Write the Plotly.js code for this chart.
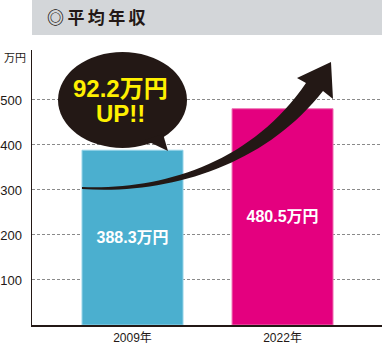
<!DOCTYPE html>
<html><head><meta charset="utf-8">
<script src="https://cdn.plot.ly/plotly-3.0.1.min.js"></script>
<style>html,body{margin:0;padding:0;background:#fff;}#chart{width:382px;height:344px;}</style>
</head><body><div id="chart"></div>
<script>
const categories = ['2009年', '2022年'];
const values = [388.3, 480.5];
const valueLabels = ['388.3万円', '480.5万円'];
const barColors = ['#4bafcf', '#e4007f'];
const barEdge = ['#94d3e8', '#ef72b4'];
const yTicks = [100, 200, 300, 400, 500];
const yUnit = '万円';
const chartTitle = '◎\u2009平\u2009均\u2009年\u2009収';
const bubbleLines = ['92.2万円', 'UP!!'];

const W = 382, H = 344, ML = 32, MR = 0, MT = 50, MB = 19;
const XR = [-0.67, 1.663], YR = [0, 611];
const PW = W - ML - MR, PH = H - MT - MB;
// helper: pixel position -> data coordinate (for decorations only)
function dx(px) { return XR[0] + (px - ML) / PW * (XR[1] - XR[0]); }
function dy(py) { return YR[0] + (H - MB - py) / PH * (YR[1] - YR[0]); }
function P(px, py) { return dx(px).toFixed(4) + ',' + dy(py).toFixed(3); }

const xs = categories.map((c, i) => i);
const font = "'Liberation Sans', Arial, 'Noto Sans CJK JP', sans-serif";
const dark = '#231815';

const arrowPath = 'M ' + P(82,187) + ' C ' + P(160,190) + ' ' + P(250,165) + ' ' + P(306,83) +
  ' L ' + P(297,78) + ' L ' + P(331,62) + ' L ' + P(333,99) + ' L ' + P(323,91) +
  ' C ' + P(265,165) + ' ' + P(170,195) + ' ' + P(82,189) + ' Z';
const tailPath = 'M ' + P(145,140) + ' L ' + P(168,151) + ' L ' + P(163,134) + ' Z';

const trace = {
  type: 'bar', x: xs, y: values, width: 0.673,
  marker: {color: barColors, line: {color: barEdge, width: 1}},
  text: valueLabels, textposition: 'inside', insidetextanchor: 'middle',
  textfont: {color: '#ffffff', size: 16, family: font, weight: 'bold'},
  hoverinfo: 'skip', cliponaxis: false
};

const layout = {
  width: W, height: H,
  margin: {l: ML, r: MR, t: MT, b: MB, pad: 0},
  paper_bgcolor: '#ffffff', plot_bgcolor: '#ffffff',
  showlegend: false,
  xaxis: {range: XR, tickvals: xs, ticktext: categories, showgrid: false, zeroline: false,
    showline: true, linecolor: dark, linewidth: 1.5, ticks: '', fixedrange: true, ticklabelstandoff: 1,
    tickfont: {family: font, size: 12, color: dark}},
  yaxis: {range: YR, tickvals: yTicks, ticktext: yTicks.map(String), showgrid: true,
    gridcolor: '#8a8a8a', griddash: '3px,2px', gridwidth: 1, zeroline: false,
    showline: true, linecolor: dark, linewidth: 1.5, ticks: '', ticklabelstandoff: 6,
    tickfont: {family: font, size: 13, color: dark}, fixedrange: true},
  shapes: [
    {type: 'rect', xref: 'paper', yref: 'paper', x0: 0, x1: 1, y0: (H - MB - 35) / PH, y1: (H - MB) / PH,
      fillcolor: '#d3d6d9', line: {width: 0}, layer: 'below'},
    {type: 'circle', xref: 'x', yref: 'y', x0: dx(58), x1: dx(187), y0: dy(148), y1: dy(52),
      fillcolor: dark, line: {width: 0}, layer: 'above'},
    {type: 'path', xref: 'x', yref: 'y', path: tailPath, fillcolor: dark, line: {width: 0}, layer: 'above'},
    {type: 'path', xref: 'x', yref: 'y', path: arrowPath, fillcolor: dark, line: {width: 0}, layer: 'above'}
  ],
  annotations: [
    {xref: 'paper', yref: 'paper', x: (45 - ML) / PW, y: (H - MB - 17) / PH, xanchor: 'left', yanchor: 'middle',
      text: chartTitle, showarrow: false, font: {family: "'Noto Sans CJK JP', sans-serif", size: 17, color: dark, weight: 'bold'}},
    {xref: 'paper', yref: 'y', x: (2 - ML) / PW, y: dy(57), xanchor: 'left', yanchor: 'middle',
      text: yUnit, showarrow: false, font: {family: "'Noto Sans CJK JP', sans-serif", size: 11, color: dark}},
    {xref: 'x', yref: 'y', x: dx(120), y: dy(88), xanchor: 'center', yanchor: 'middle',
      text: bubbleLines[0], showarrow: false, font: {family: font, size: 24, color: '#fff100', weight: 'bold'}},
    {xref: 'x', yref: 'y', x: dx(120), y: dy(113), xanchor: 'center', yanchor: 'middle',
      text: bubbleLines[1], showarrow: false, font: {family: font, size: 24, color: '#fff100', weight: 'bold'}}
  ]
};

Plotly.newPlot('chart', [trace], layout, {displayModeBar: false, staticPlot: true});
</script></body></html>
